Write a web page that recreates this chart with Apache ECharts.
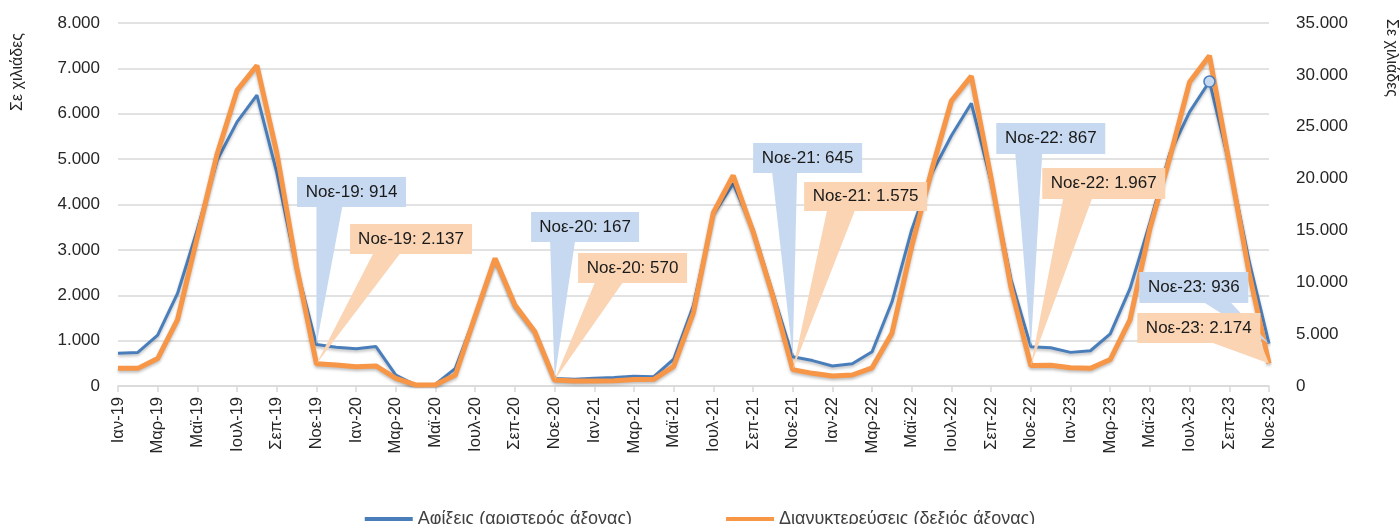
<!DOCTYPE html>
<html>
<head>
<meta charset="utf-8">
<script src="https://cdn.jsdelivr.net/npm/echarts@6/dist/echarts.min.js"></script>
<style>
html,body{margin:0;padding:0;background:#fff;}
#chart{width:1400px;height:524px;}
</style>
</head>
<body>
<div id="chart"></div>
<script>
const categories = [
 'Ιαν-19','Φεβ-19','Μαρ-19','Απρ-19','Μαϊ-19','Ιουν-19','Ιουλ-19','Αυγ-19','Σεπ-19','Οκτ-19','Νοε-19','Δεκ-19',
 'Ιαν-20','Φεβ-20','Μαρ-20','Απρ-20','Μαϊ-20','Ιουν-20','Ιουλ-20','Αυγ-20','Σεπ-20','Οκτ-20','Νοε-20','Δεκ-20',
 'Ιαν-21','Φεβ-21','Μαρ-21','Απρ-21','Μαϊ-21','Ιουν-21','Ιουλ-21','Αυγ-21','Σεπ-21','Οκτ-21','Νοε-21','Δεκ-21',
 'Ιαν-22','Φεβ-22','Μαρ-22','Απρ-22','Μαϊ-22','Ιουν-22','Ιουλ-22','Αυγ-22','Σεπ-22','Οκτ-22','Νοε-22','Δεκ-22',
 'Ιαν-23','Φεβ-23','Μαρ-23','Απρ-23','Μαϊ-23','Ιουν-23','Ιουλ-23','Αυγ-23','Σεπ-23','Οκτ-23','Νοε-23'
];
// Αφίξεις (thousands, left axis)
const arrivals = [
 720,740,1120,2040,3450,4980,5820,6410,4700,2600,914,855,
 820,870,240,20,40,390,1550,2810,1760,1200,167,150,
 170,190,215,205,590,1780,3780,4460,3450,2040,645,560,
 440,490,756,1850,3450,4680,5520,6230,4500,2350,867,844,
 741,777,1150,2150,3600,5120,6040,6710,4900,2750,936
];
// Διανυκτερεύσεις (thousands, right axis)
const overnights = [
 1700,1700,2650,6400,14400,22400,28500,30900,22500,11500,2137,2020,
 1850,1930,740,100,110,1060,6750,12300,7800,5250,570,480,
 480,510,620,640,1900,7100,16700,20300,14900,8650,1575,1220,
 960,1060,1750,5080,13500,20800,27500,29880,20000,9500,1967,2000,
 1750,1700,2550,6400,15200,22000,29300,31850,21500,10900,2174
];
const seriesNames = ['Αφίξεις (αριστερός άξονας)', 'Διανυκτερεύσεις (δεξιός άξονας)'];
const axisTitle = 'Σε χιλιάδες';
const leftTicks = {min:0, max:8000, interval:1000};
const rightTicks = {min:0, max:35000, interval:5000};
const calloutIdx = [10, 22, 34, 46, 58];
const highlightIdx = 55;

const BLUE = '#4a7ebb', ORANGE = '#f79646';
const BLUE_BOX = '#c6d9f1', ORANGE_BOX = '#fbd4b4';
const TXT = '#262626';
const FONT = "'Liberation Sans', Arial, sans-serif";
const fmt = n => String(n).replace(/\B(?=(\d{3})+(?!\d))/g, '.');

// layout of callouts relative to their data point: box [dx,dy,w,h], pointer base [x0,x1] on box bottom
const calloutLayout = [
 {s:0, k:0, box:[-19.4,-167.5,109,30], base:[0,26]},
 {s:1, k:0, box:[33.6,-139.8,122,30], base:[57,84]},
 {s:0, k:1, box:[-23.5,-166.4,108,30], base:[-4.5,20.5]},
 {s:1, k:1, box:[23.5,-127,109,30], base:[40.5,68.5]},
 {s:0, k:2, box:[-39.6,-213.7,109,30], base:[-20.6,4.4]},
 {s:1, k:2, box:[11.4,-187.7,123,29], base:[34.4,62.4]},
 {s:0, k:3, box:[-34.6,-223.7,109,31], base:[-15.6,11.4]},
 {s:1, k:3, box:[11.4,-197.6,123,31], base:[32.4,61.4]},
 {s:0, k:4, box:[-129.7,-71.5,109,31], base:[-65.7,-38.7]},
 {s:1, k:4, box:[-131.7,-50.5,123,30], base:[-58.7,-8.7]}
];

const chart = echarts.init(document.getElementById('chart'), null, {renderer:'canvas'});
const lineShadow = {shadowColor:'rgba(0,0,0,0.25)', shadowBlur:3, shadowOffsetY:2};
const option = {
  animation:false,
  textStyle:{fontFamily:FONT},
  grid:{left:118, right:131, top:23, bottom:138},
  legend:{
    bottom:-9, left:'center', itemGap:94, itemWidth:48, itemHeight:4, icon:'rect',
    textStyle:{fontSize:18, color:'#404040', fontFamily:FONT},
    data:seriesNames
  },
  xAxis:{
    type:'category', data:categories, boundaryGap:false,
    axisLine:{lineStyle:{color:'#d9d9d9', width:1.5}},
    axisTick:{interval:1, length:6, lineStyle:{color:'#d9d9d9', width:1.5}},
    axisLabel:{interval:1, rotate:90, margin:11, fontSize:16.5, color:TXT, fontFamily:FONT}
  },
  yAxis:[
    {type:'value', min:leftTicks.min, max:leftTicks.max, interval:leftTicks.interval,
     axisLine:{show:false}, axisTick:{show:false},
     splitLine:{lineStyle:{color:'#d9d9d9', width:1.5}},
     axisLabel:{margin:18, fontSize:17, color:TXT, fontFamily:FONT, formatter:v=>fmt(v)}},
    {type:'value', min:rightTicks.min, max:rightTicks.max, interval:rightTicks.interval,
     position:'right', axisLine:{show:false}, axisTick:{show:false}, splitLine:{show:false},
     axisLabel:{margin:27, fontSize:17, color:TXT, fontFamily:FONT, formatter:v=>fmt(v)}}
  ],
  series:[
    {name:seriesNames[0], type:'line', yAxisIndex:0, data:arrivals, showSymbol:false,
     color:BLUE, lineStyle:Object.assign({width:3, color:BLUE}, lineShadow),
     markPoint:{z:6, symbol:'circle', symbolSize:11, label:{show:false},
       itemStyle:{color:'#c6d9f1', borderColor:BLUE, borderWidth:1.5},
       data:[{coord:[highlightIdx, arrivals[highlightIdx]]}]}},
    {name:seriesNames[1], type:'line', yAxisIndex:1, data:overnights, showSymbol:false,
     color:ORANGE, lineStyle:Object.assign({width:5, color:ORANGE}, lineShadow)}
  ]
};
chart.setOption(option);

function buildGraphics(){
  const els = [];
  els.push({type:'text', x:18, y:72, rotation:Math.PI/2, z:100,
    style:{text:axisTitle, fontSize:16, fill:TXT, fontFamily:FONT, align:'center', verticalAlign:'middle'}});
  els.push({type:'text', x:1391, y:58, rotation:-Math.PI/2, z:100,
    style:{text:axisTitle, fontSize:16, fill:TXT, fontFamily:FONT, align:'center', verticalAlign:'middle'}});
  calloutLayout.forEach(c => {
    const idx = calloutIdx[c.k];
    const vals = c.s === 0 ? arrivals : overnights;
    const p = chart.convertToPixel({seriesIndex:c.s}, [idx, vals[idx]]);
    const [dx,dy,w,h] = c.box;
    const bx = p[0]+dx, by = p[1]+dy;
    const fill = c.s === 0 ? BLUE_BOX : ORANGE_BOX;
    els.push({type:'polygon', z:100, shape:{points:[[p[0]+c.base[0], by+h-1],[p[0]+c.base[1], by+h-1],[p[0],p[1]]]}, style:{fill:fill}});
    els.push({type:'rect', z:101, shape:{x:bx, y:by, width:w, height:h}, style:{fill:fill}});
    els.push({type:'text', z:102, x:bx+w/2, y:by+h/2,
      style:{text:categories[idx]+': '+fmt(vals[idx]), fontSize:17, fill:'#1a1a1a', fontFamily:FONT, align:'center', verticalAlign:'middle'}});
  });
  chart.setOption({graphic:{elements:els}});
}
buildGraphics();
</script>
</body>
</html>
